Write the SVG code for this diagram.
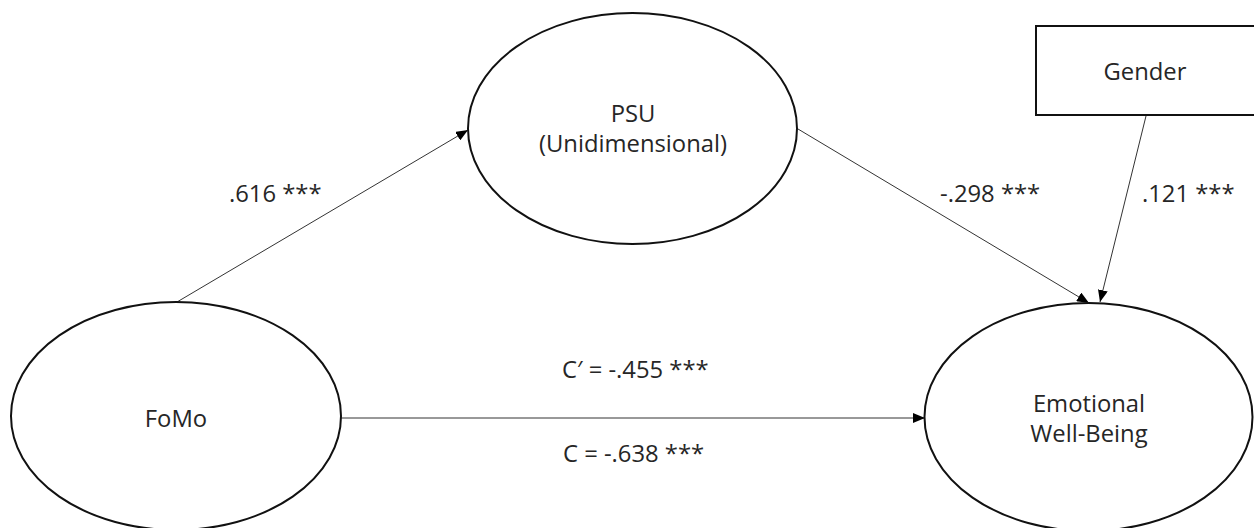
<svg xmlns="http://www.w3.org/2000/svg" width="1254" height="528" viewBox="0 0 1254 528">
<style>
.node{fill:#fff;stroke:#111;stroke-width:2}
.lbl{font-family:"Open Sans","Liberation Sans",sans-serif;font-size:23.8px;fill:#262626}
.mid{text-anchor:middle}
.edge{stroke:#333;stroke-width:1;fill:none;marker-end:url(#ah)}
</style>
<defs>
<marker id="ah" markerUnits="userSpaceOnUse" markerWidth="12" markerHeight="10" viewBox="0 0 12 10" refX="12" refY="5" orient="auto">
<path d="M0,0 L12,5 L0,10 z" fill="#000"/>
</marker>
</defs>
<rect width="1254" height="528" fill="#fff"/>
<g id="connectors">
<line class="edge" x1="177" y1="302" x2="468" y2="130"/>
<line class="edge" x1="798" y1="129" x2="1089" y2="303"/>
<line class="edge" x1="1146" y1="116" x2="1100" y2="302"/>
<line class="edge" x1="341" y1="418" x2="925" y2="418"/>
</g>
<g id="labels">
<text class="lbl" x="229" y="202">.616 ***</text>
<text class="lbl" x="940" y="202">-.298 ***</text>
<text class="lbl" x="1142" y="202">.121 ***</text>
<text class="lbl" x="562" y="378">C′ = -.455 ***</text>
<text class="lbl" x="563" y="462">C = -.638 ***</text>
</g>
<g id="fomo">
<ellipse class="node" cx="176" cy="416" rx="165" ry="114"/>
<text class="lbl mid" x="176" y="427">FoMo</text>
</g>
<g id="psu">
<ellipse class="node" cx="632.5" cy="128.5" rx="164.5" ry="115.5"/>
<text class="lbl mid" x="633" y="122">PSU</text>
<text class="lbl mid" x="633" y="152">(Unidimensional)</text>
</g>
<g id="ewb">
<ellipse class="node" cx="1088.5" cy="417" rx="164" ry="114"/>
<text class="lbl mid" x="1089" y="412">Emotional</text>
<text class="lbl mid" x="1089" y="442">Well-Being</text>
</g>
<g id="gender">
<rect class="node" x="1036" y="26" width="230" height="89"/>
<text class="lbl mid" x="1145" y="80">Gender</text>
</g>
</svg>
